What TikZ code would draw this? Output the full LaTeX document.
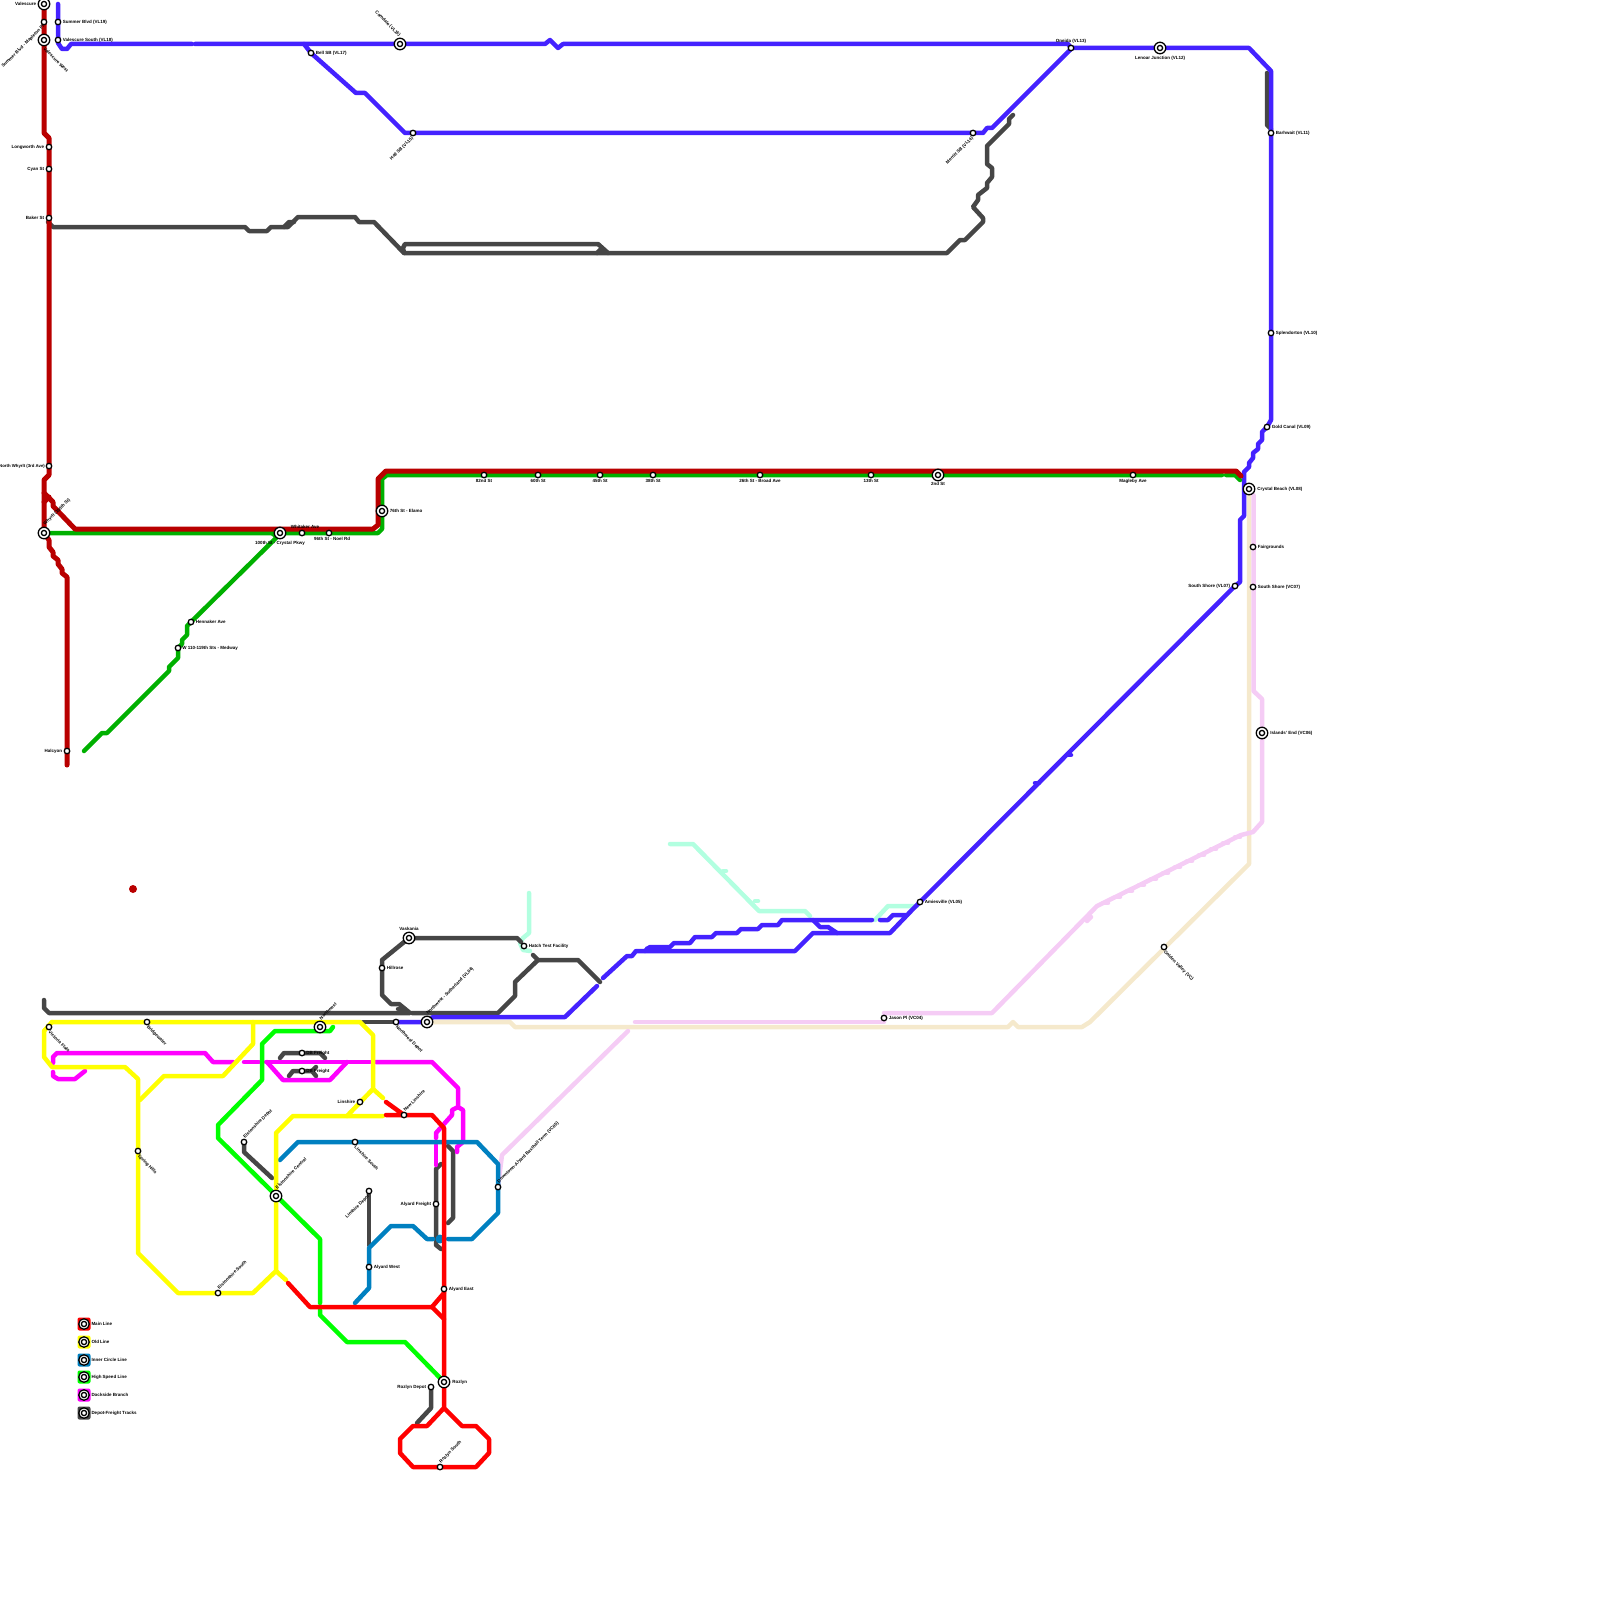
\documentclass[tikz,border=0pt]{standalone}
\usepackage{fontspec}
\setmainfont{Liberation Sans}
\usetikzlibrary{positioning,backgrounds}
\definecolor{mapmain}{RGB}{255,0,0}
\definecolor{mapold}{RGB}{255,255,0}
\definecolor{mapinner}{RGB}{0,128,192}
\definecolor{mapfast}{RGB}{0,255,0}
\definecolor{mapdock}{RGB}{255,0,255}
\definecolor{mapdepot}{RGB}{70,70,70}
\definecolor{mapdeep}{RGB}{185,0,0}
\definecolor{mapgreen}{RGB}{0,176,0}
\definecolor{mapblue}{RGB}{68,34,255}
\definecolor{mapaqua}{RGB}{178,255,224}
\definecolor{mapcream}{RGB}{245,233,204}
\definecolor{mappink}{RGB}{245,204,245}

\begin{document}
\begin{tikzpicture}[x=1pt,y=-1pt,
    route/.style={line width=4.5pt, line join=round, line cap=round},
    stop/.style={circle, draw=black, fill=white, line width=1.3pt, minimum size=5.5pt, inner sep=0pt},
    hub/.style={circle, draw=black, fill=white, line width=1.3pt, minimum size=11.5pt, inner sep=0pt,
        path picture={\draw[line width=1.3pt] (path picture bounding box.center) circle (2.6pt);}},
    keybox/.style={rectangle, rounded corners=2pt, minimum size=13pt, inner sep=0pt},
    lbl/.style={font=\fontsize{4.5}{5.2}\selectfont\bfseries, text=black, inner sep=0.3pt},
    lblne/.style={lbl, rotate=45, anchor=west, xshift=3pt, yshift=3pt},
    lblse/.style={lbl, rotate=-45, anchor=west, xshift=3pt, yshift=-3pt},
    lblnw/.style={lbl, rotate=-45, anchor=east, xshift=-3pt, yshift=3pt},
    lblsw/.style={lbl, rotate=45, anchor=east, xshift=-3pt, yshift=-3pt},
    hubne/.style={lblne, xshift=2.5pt, yshift=2.5pt},
    hubse/.style={lblse, xshift=2.5pt, yshift=-2.5pt},
    hubnw/.style={lblnw, xshift=-2.5pt, yshift=2.5pt}
]
    \useasboundingbox (0,0) rectangle (1600,1600);

    % north west
    \node[hub] (valescure) at (44,4) {};
    \node[stop] (summerpl) at (44,22) {};
    \node[hub] (valwest) at (44,40) {};
    \node[stop] (summervl) at (58,22) {};
    \node[stop] (valsouth) at (58,40) {};
    \node[stop] (longworth) at (49,147) {};
    \node[stop] (cyan) at (49,169) {};
    \node[stop] (baker) at (49,218) {};
    \node[stop] (northwhyrlt) at (49,466) {};
    \node[hub] (whyrlt) at (44,533) {};
    \node[stop] (halcyon) at (67,751) {};
    \node[left=1pt of valescure, lbl] (tvalescure) {Valescure};
    \node[lblsw, xshift=0.5pt, yshift=0.5pt] (tsummerpl) at (summerpl) {Summer Blvd - Mapleton Pl};
    \node[hubse] (tvalwest) at (valwest) {Valescure West};
    \node[right=1pt of summervl, lbl] (tsummervl) {Summer Blvd (VL19)};
    \node[right=1pt of valsouth, lbl] (tvalsouth) {Valescure South (VL18)};
    \node[left=1pt of longworth, lbl] (tlongworth) {Longworth Ave};
    \node[left=1pt of cyan, lbl] (tcyan) {Cyan St};
    \node[left=1pt of baker, lbl] (tbaker) {Baker St};
    \node[left=0.2pt of northwhyrlt, lbl, font=\fontsize{4.3}{5}\selectfont\bfseries] (tnorthwhyrlt) {North Whyrlt (3rd Ave)};
    \node[hubne] (twhyrlt) at (whyrlt) {Whyrlt (100th St)};
    \node[left=1pt of halcyon, lbl] (thalcyon) {Halcyon};

    % top line
    \node[stop] (bell) at (311,53) {};
    \node[hub] (camdale) at (400,44) {};
    \node[stop] (hall) at (413,133) {};
    \node[stop] (merritt) at (973,133) {};
    \node[stop] (oneida) at (1071,48) {};
    \node[hub] (lenoar) at (1160,48) {};
    \node[stop] (barhwait) at (1271,133) {};
    \node[stop] (splendor) at (1271,333) {};
    \node[stop] (goldcanal) at (1267,427) {};
    \node[right=1pt of bell, lbl] (tbell) {Bell SB (VL17)};
    \node[hubnw] (tcamdale) at (camdale) {Camdale (VL16)};
    \node[lblsw] (thall) at (hall) {Hall SB (VL15)};
    \node[lblsw] (tmerritt) at (merritt) {Merritt SB (VL14)};
    \node[above=0.5pt of oneida, lbl] (toneida) {Oneida (VL13)};
    \node[below=1pt of lenoar, lbl] (tlenoar) {Lenoar Junction (VL12)};
    \node[right=1pt of barhwait, lbl] (tbarhwait) {Barhwait (VL11)};
    \node[right=1pt of splendor, lbl] (tsplendor) {Splendorton (VL10)};
    \node[right=1pt of goldcanal, lbl] (tgoldcanal) {Gold Canal (VL09)};

    % middle row
    \node[hub] (crystalpkwy) at (280,533) {};
    \node[stop] (whitaker) at (302,533) {};
    \node[stop] (noel) at (329,533) {};
    \node[hub] (elamo) at (382,511) {};
    \node[stop] (st82) at (484,475) {};
    \node[stop] (st60) at (538,475) {};
    \node[stop] (st45) at (600,475) {};
    \node[stop] (st38) at (653,475) {};
    \node[stop] (st26) at (760,475) {};
    \node[stop] (st13) at (871,475) {};
    \node[hub] (st2) at (938,475) {};
    \node[stop] (magleby) at (1133,475) {};
    \node[stop] (hennaker) at (191,622) {};
    \node[stop] (medway) at (178,648) {};
    \node[below=1pt of crystalpkwy, lbl] (tcrystalpkwy) {100th St - Crystal Pkwy};
    \node[above=0.5pt of whitaker, lbl, xshift=3pt] (twhitaker) {Whitaker Ave};
    \node[below=0.5pt of noel, lbl, xshift=3pt] (tnoel) {96th St - Noel Rd};
    \node[right=1pt of elamo, lbl] (telamo) {76th St - Elamo};
    \node[below=0.5pt of st82, lbl] (tst82) {82nd St};
    \node[below=0.5pt of st60, lbl] (tst60) {60th St};
    \node[below=0.5pt of st45, lbl] (tst45) {45th St};
    \node[below=0.5pt of st38, lbl] (tst38) {38th St};
    \node[below=0.5pt of st26, lbl] (tst26) {26th St - Broad Ave};
    \node[below=0.5pt of st13, lbl] (tst13) {13th St};
    \node[below=0.5pt of st2, lbl] (tst2) {2nd St};
    \node[below=0.5pt of magleby, lbl] (tmagleby) {Magleby Ave};
    \node[right=1pt of hennaker, lbl] (thennaker) {Hennaker Ave};
    \node[right=0.5pt of medway, lbl] (tmedway) {W 110-119th Sts - Medway};

    % east side
    \node[hub] (crystalbeach) at (1249,489) {};
    \node[stop] (fairgrounds) at (1253,547) {};
    \node[stop] (southvc) at (1253,587) {};
    \node[stop] (southvl) at (1235,586) {};
    \node[hub] (islands) at (1262,733) {};
    \node[stop] (amiesville) at (920,902) {};
    \node[stop] (golden) at (1164,947) {};
    \node[stop] (jason) at (884,1018) {};
    \node[right=1.5pt of crystalbeach, lbl] (tcrystalbeach) {Crystal Beach (VL08)};
    \node[right=1pt of fairgrounds, lbl] (tfairgrounds) {Fairgrounds};
    \node[right=1pt of southvc, lbl] (tsouthvc) {South Shore (VC07)};
    \node[left=1pt of southvl, lbl] (tsouthvl) {South Shore (VL07)};
    \node[right=1.5pt of islands, lbl] (tislands) {Islands' End (VC06)};
    \node[right=1pt of amiesville, lbl] (tamiesville) {Amiesville (VL05)};
    \node[lblse] (tgolden) at (golden) {Golden Valley (VC)};
    \node[right=1pt of jason, lbl] (tjason) {Jason Pl (VC04)};

    % south network
    \node[hub] (vaskania) at (409,938) {};
    \node[stop] (hillrose) at (382,968) {};
    \node[stop] (hatch) at (524,946) {};
    \node[hub] (sutherland) at (427,1022) {};
    \node[stop] (nwdepot) at (396,1022) {};
    \node[hub] (northwest) at (320,1027) {};
    \node[stop] (victoria) at (49,1027) {};
    \node[stop] (bridgewater) at (147,1022) {};
    \node[stop] (dbnorth) at (302,1053) {};
    \node[stop] (dbsouth) at (302,1071) {};
    \node[stop] (linshire) at (360,1102) {};
    \node[stop] (newlinshire) at (404,1115) {};
    \node[stop] (elstondepot) at (244,1142) {};
    \node[stop] (spring) at (138,1151) {};
    \node[stop] (linsouth) at (355,1142) {};
    \node[hub] (elstoncentral) at (276,1196) {};
    \node[stop] (downtown) at (498,1187) {};
    \node[stop] (lindepot) at (369,1191) {};
    \node[stop] (alyfreight) at (436,1204) {};
    \node[stop] (alywest) at (369,1267) {};
    \node[stop] (alyeast) at (444,1289) {};
    \node[stop] (elstonsouth) at (218,1293) {};
    \node[hub] (rozlyn) at (444,1382) {};
    \node[stop] (rozdepot) at (431,1387) {};
    \node[stop] (rozsouth) at (440,1467) {};
    \node[above=0.5pt of vaskania, lbl] (tvaskania) {Vaskania};
    \node[right=1pt of hillrose, lbl] (thillrose) {Hillrose};
    \node[right=1pt of hatch, lbl] (thatch) {Hatch Test Facility};
    \node[hubne] (tsutherland) at (sutherland) {Northwest - Sutherland (VL04)};
    \node[lblse] (tnwdepot) at (nwdepot) {Northwest Depot};
    \node[hubne] (tnorthwest) at (northwest) {Northwest};
    \node[lblse] (tvictoria) at (victoria) {Victoria Flats};
    \node[lblse] (tbridgewater) at (bridgewater) {Bridgewater};
    \node[right=0.5pt of dbnorth, lbl] (tdbnorth) {DB Freight};
    \node[right=0.5pt of dbsouth, lbl] (tdbsouth) {DB Freight};
    \node[left=1pt of linshire, lbl] (tlinshire) {Linshire};
    \node[lblne] (tnewlinshire) at (newlinshire) {New Linshire};
    \node[lblne] (telstondepot) at (elstondepot) {Elstonshire Depot};
    \node[lblse] (tspring) at (spring) {Spring Hills};
    \node[lblse] (tlinsouth) at (linsouth) {Linshire South};
    \node[hubne] (telstoncentral) at (elstoncentral) {Elstonshire Central};
    \node[lblne] (tdowntown) at (downtown) {Downtown-Alyard Baxthall Term (VC05)};
    \node[lblsw] (tlindepot) at (lindepot) {Linshire Depot};
    \node[left=1pt of alyfreight, lbl] (talyfreight) {Alyard Freight};
    \node[right=1pt of alywest, lbl] (talywest) {Alyard West};
    \node[right=1pt of alyeast, lbl] (talyeast) {Alyard East};
    \node[lblne] (telstonsouth) at (elstonsouth) {Elstonshire South};
    \node[right=1.5pt of rozlyn, lbl] (trozlyn) {Rozlyn};
    \node[left=1pt of rozdepot, lbl] (trozdepot) {Rozlyn Depot};
    \node[lblne] (trozsouth) at (rozsouth) {Rozlyn South};

    % legend
    \node[keybox, fill=mapmain] (key1) at (84,1324) {};
    \node[keybox, fill=mapold] (key2) at (84,1342) {};
    \node[keybox, fill=mapinner] (key3) at (84,1360) {};
    \node[keybox, fill=mapfast] (key4) at (84,1377) {};
    \node[keybox, fill=mapdock] (key5) at (84,1395) {};
    \node[keybox, fill=mapdepot] (key6) at (84,1413) {};
    \foreach \k/\txt in {1/Main Line, 2/Old Line, 3/Inner Circle Line, 4/High Speed Line, 5/Dockside Branch, 6/Depot-Freight Tracks} {
        \node[hub, minimum size=10.5pt] (khub\k) at (key\k) {};
        \node[right=0.3pt of key\k, lbl] (ktxt\k) {\txt};
    }

    \begin{scope}[on background layer]
        % cream and pink
        \draw[route, mapcream] (sutherland.center) -- (510,1022) -- (515,1027) -- (1008,1027) -- (1013,1022) -- (1018,1027) -- (1082,1027) -- (1090,1022) -- (1249,864) -- (crystalbeach.center);
        \draw[route, mappink] (635,1022) -- (884,1022);
        \draw[route, mappink] (884,1013) -- (992,1013) -- (1097,906) -- (1241,835) -- (1253,832) -- (1262,822) -- (1262,699) -- (1253.5,691) -- (1253.5,495);
        \draw[route, mappink] (628,1031) -- (502,1155) -- (downtown.center);
        \draw[route, mappink] (1087,921) -- (1091,917);
        \foreach \i in {0,...,11}
            \draw[route, mappink] (1103+12*\i,903-6*\i) -- ++(5,0);

        % aqua
        \draw[route, mapaqua] (670,844) -- (693,844) -- (759,911) -- (805,911) -- (810,916);
        \draw[route, mapaqua] (723,871) -- (726,871);
        \draw[route, mapaqua] (755,901) -- (758,901);
        \draw[route, mapaqua] (875,920) -- (888,906) -- (917,906);
        \draw[route, mapaqua] (529,893) -- (529,933) -- (523,938) -- (520,943) -- (523,950) -- (530,951);

        % depot tracks
        \begin{scope}[mapdepot]
            \draw[route] (48,222) -- (53,227) -- (245,227) -- (249,231) -- (267,231) -- (271,227) -- (288,227) -- (298,217) -- (355,217) -- (359,222) -- (374,222) -- (404,253) -- (947,253) -- (960,240) -- (965,240) -- (983,222) -- (983,218) -- (973,207) -- (978,200) -- (978,195) -- (987,188) -- (987,183) -- (992,177) -- (992,168) -- (987,164) -- (987,146) -- (1009,124) -- (1009,119) -- (1013,115);
            \draw[route] (404,253) -- (403,248) -- (405,244) -- (598,244) -- (608,253);
            \draw[route] (597,253) -- (602,248);
            \draw[route] (284,227) -- (289,222) -- (294,222);
            \draw[route] (1267,73) -- (1267,125) -- (1271,129);
            \draw[route] (44,1000) -- (44,1008) -- (49,1013) -- (410,1013) -- (399,1004) -- (391,1004) -- (382,995) -- (382,960) -- (vaskania.center) -- (517,938) -- (521,942);
            \draw[route] (398,1009) -- (404,1009);
            \draw[route] (533,955) -- (538,960) -- (578,960) -- (600,982);
            \draw[route] (538,960) -- (515,982) -- (515,996) -- (498,1013) -- (412,1013);
            \draw[route] (363,1022) -- (nwdepot.center);
            \draw[route] (280,1058) -- (284,1053) -- (320,1053) -- (325,1058);
            \draw[route] (289,1076) -- (293,1071) -- (312,1071) -- (316,1067);
            \draw[route] (312,1071) -- (316,1076);
            \draw[route] (elstondepot.center) -- (244,1152) -- (272,1178);
            \draw[route] (lindepot.center) -- (369,1245);
            \draw[route] (441,1164) -- (436,1169) -- (436,1245) -- (441,1249);
            \draw[route] (448,1146) -- (453,1151) -- (453,1218) -- (448,1223);
            \draw[route] (rozdepot.center) -- (431,1408) -- (417,1423);
        \end{scope}

        % blue line
        \begin{scope}[mapblue]
            \draw[route] (58,4) -- (valsouth.center) -- (58,43) -- (62,49) -- (67,49) -- (71,44) -- (192,44);
            \draw[route] (195,44) -- (545,44) -- (550,40) -- (558,48) -- (563,44) -- (1068,44) -- (oneida.center) -- (1249,48) -- (1271,71) -- (1271,420) -- (goldcanal.center) -- (1262,432) -- (1262,440) -- (1258,444) -- (1258,449) -- (1253,453) -- (1253,458) -- (1249,463) -- (1249,467) -- (1244,472) -- (1244,516) -- (1240,520) -- (1240,582) -- (southvl.center) -- (amiesville.center) -- (912,910) -- (890,933) -- (813,933) -- (795,951) -- (636,951) -- (632,956) -- (627,956) -- (603,978);
            \draw[route] (304,44) -- (bell.center) -- (356,93) -- (365,93) -- (405,133) -- (983,133) -- (987,128) -- (992,128) -- (1071,49);
            \draw[route] (645,951) -- (650,947) -- (670,947) -- (674,943) -- (690,943) -- (695,937) -- (712,937) -- (716,933) -- (737,933) -- (741,929) -- (758,929) -- (762,925) -- (778,925) -- (782,920) -- (872,920);
            \draw[route] (880,920) -- (888,920) -- (893,915) -- (907,915);
            \draw[route] (813,920) -- (820,927) -- (828,927) -- (837,933);
            \draw[route, line width=7pt] (648,949) -- (667,949);
            \draw[route] (597,986) -- (565,1017) -- (433,1017) -- (sutherland.center) -- (nwdepot.center);
            \draw[route] (1035,783) -- (1039,783);
            \draw[route] (1067,755) -- (1071,755);
        \end{scope}

        % deep red and green
        \draw[route, mapgreen] (whyrlt.center) -- (378,533) -- (382,529) -- (382,479) -- (387,475) -- (1222,475);
        \draw[route, mapgreen] (1226,475) -- (1235,475) -- (1240,480);
        \draw[route, mapgreen] (84,751) -- (102,733) -- (107,733) -- (169,671) -- (169,667) -- (178,658) -- (medway.center) -- (182,644) -- (182,640) -- (187,635) -- (187,626) -- (hennaker.center) -- (277,537) -- (272,533);
        \draw[route, mapdeep, line width=5pt] (valescure.center) -- (44,133) -- (49,138) -- (49,475) -- (44,480) -- (whyrlt.center) -- (49,540) -- (49,547) -- (53,552) -- (53,556) -- (58,560) -- (58,564) -- (62,569) -- (62,573) -- (67,577) -- (67,765);
        \draw[route, mapdeep, line width=5pt] (44,493) -- (53,502) -- (53,506) -- (75,529) -- (373,529) -- (378,525) -- (378,479) -- (386,471) -- (1236,471) -- (1241,476);
        \draw[route, mapdeep, line width=5pt] (44,502) -- (49,497);

        % dockside branch
        \begin{scope}[mapdock]
            \draw[route] (85,1071) -- (75,1079) -- (58,1079) -- (53,1076) -- (53,1072);
            \draw[route] (53,1063) -- (53,1057) -- (57,1053) -- (205,1053) -- (213,1062) -- (233,1062);
            \draw[route] (244,1062) -- (259,1062);
            \draw[route] (266,1062) -- (370,1062);
            \draw[route] (376,1062) -- (432,1062) -- (458,1088) -- (458,1107) -- (463,1110) -- (463,1142) -- (457,1147) -- (457,1152);
            \draw[route] (458,1107) -- (452,1110) -- (452,1115) -- (436,1133) -- (436,1138);
            \draw[route] (436,1145) -- (436,1165);
            \draw[route] (267,1062) -- (283,1080) -- (330,1080) -- (347,1062);
        \end{scope}

        % inner circle
        \draw[route, mapinner] (280,1160) -- (298,1142) -- (477,1142) -- (498,1164) -- (498,1213) -- (472,1239) -- (448,1239);
        \draw[route, mapinner] (433,1239) -- (427,1239) -- (413,1226) -- (391,1226) -- (369,1248) -- (369,1288) -- (355,1303);
        \fill[mapinner] (440,1239) circle (4.5pt);

        % high speed
        \draw[route, mapfast] (333,1027) -- (330,1031) -- (275,1031) -- (262,1044) -- (262,1080) -- (218,1125) -- (218,1138) -- (320,1239) -- (320,1303);
        \draw[route, mapfast] (320,1310) -- (320,1315) -- (347,1342) -- (405,1342) -- (rozlyn.center);

        % old line
        \begin{scope}[mapold]
            \draw[route] (52,1022) -- (44,1031) -- (44,1057) -- (52,1067) -- (125,1067) -- (138,1079) -- (138,1253) -- (178,1293) -- (253,1293) -- (276,1271) -- (276,1133) -- (293,1116) -- (383,1116);
            \draw[route] (52,1022) -- (360,1022) -- (373,1035) -- (373,1089) -- (347,1116);
            \draw[route] (373,1089) -- (383,1098);
            \draw[route] (253,1022) -- (253,1044) -- (223,1076) -- (164,1076) -- (140,1100);
            \draw[route] (276,1271) -- (286,1280);
        \end{scope}

        % main line
        \begin{scope}[mapmain]
            \draw[route] (288,1283) -- (310,1307) -- (432,1307) -- (444,1293);
            \draw[route] (432,1307) -- (444,1319);
            \draw[route] (386,1102) -- (newlinshire.center) -- (386,1115);
            \draw[route] (newlinshire.center) -- (432,1115) -- (444,1128) -- (444,1408) -- (427,1426) -- (413,1426) -- (400,1439) -- (400,1453) -- (413,1467) -- (476,1467) -- (489,1453) -- (489,1439) -- (476,1426) -- (462,1426) -- (444,1408);
        \end{scope}

        % stray marker
        \fill[mapdeep] (133,889) circle (4pt);
    \end{scope}
\end{tikzpicture}
\end{document}
